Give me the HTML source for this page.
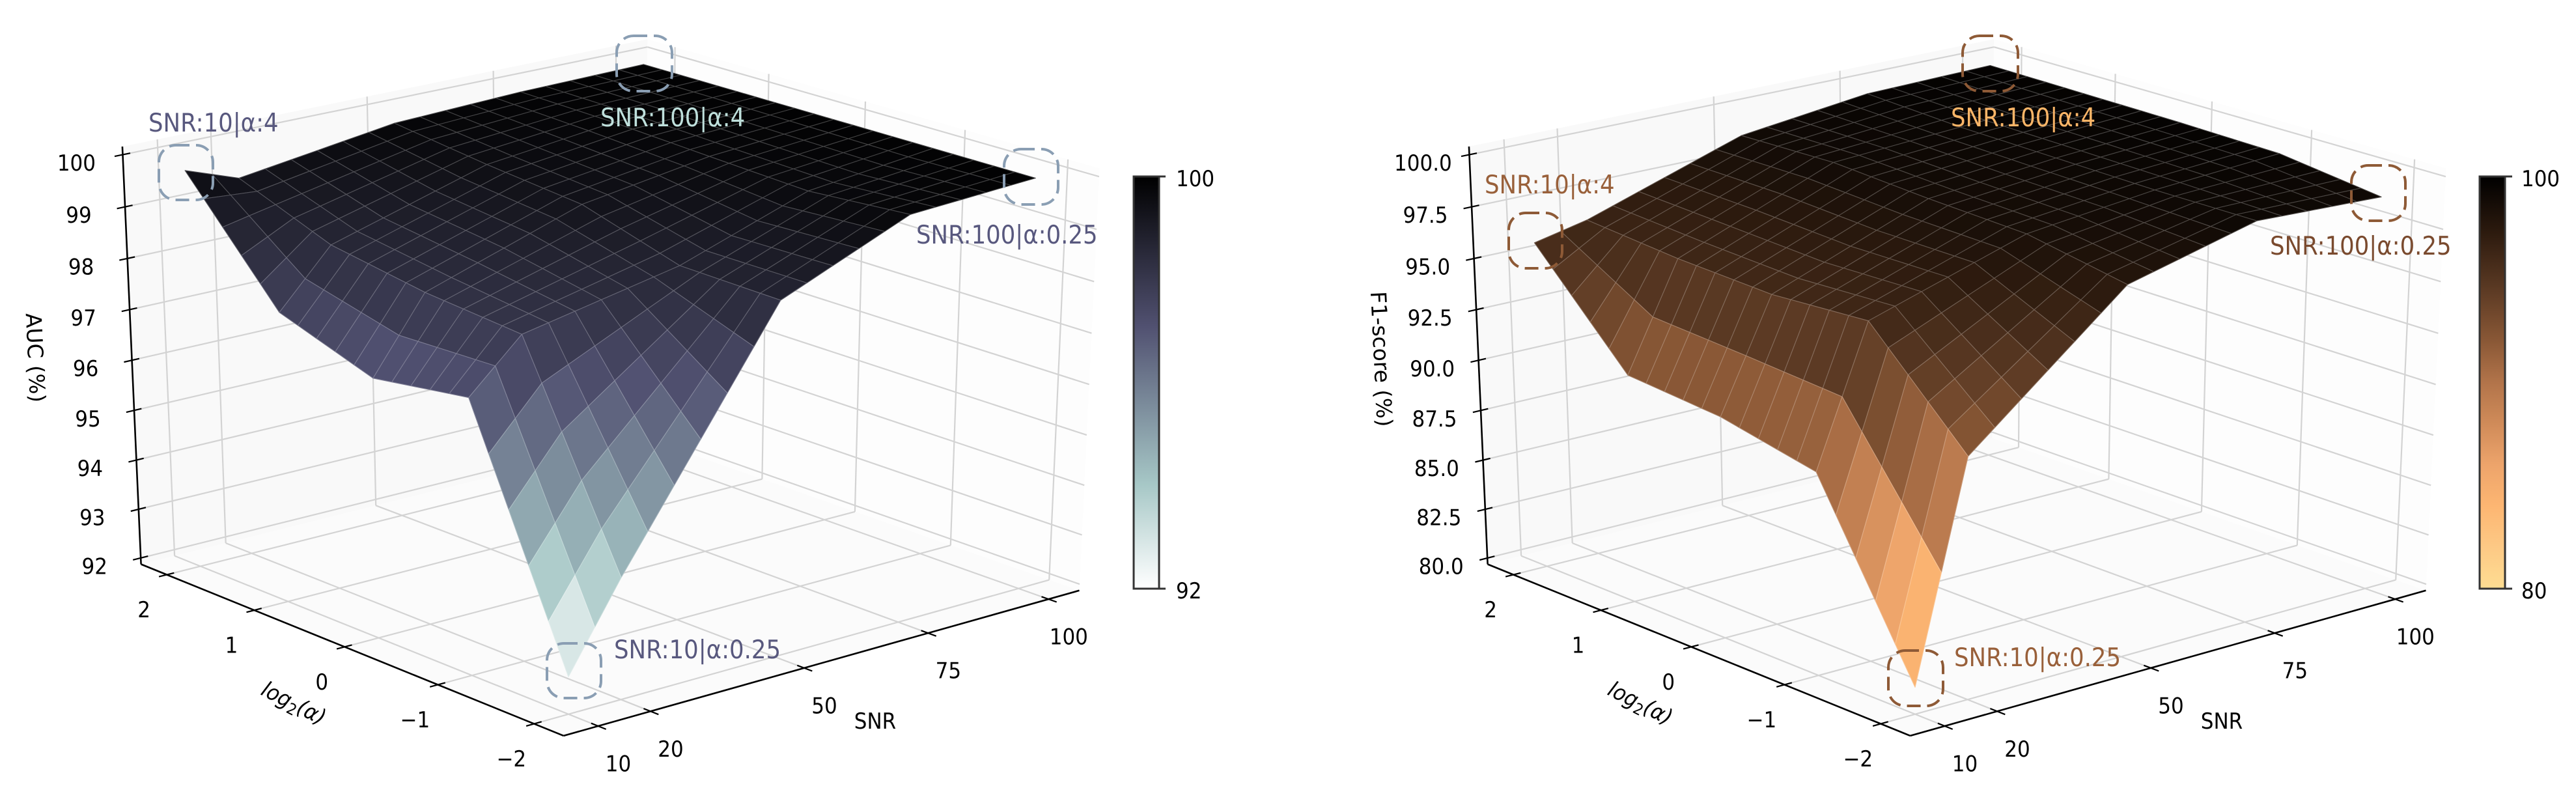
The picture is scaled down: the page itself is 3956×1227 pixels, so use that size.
<!DOCTYPE html>
<html lang="en">
<head>
<meta charset="utf-8">
<title>AUC and F1-score surfaces</title>
<style>
html,body{margin:0;padding:0;background:#fff;}
svg{display:block;}
text{font-family:"DejaVu Sans","Liberation Sans",sans-serif;}
.tick-label{font-size:31px;fill:#000;text-anchor:middle;}
.axis-title{font-size:31px;fill:#000;text-anchor:middle;}
.axis-title-rot{font-size:33px;fill:#000;text-anchor:middle;}
.note{font-size:35.5px;}
.ring{fill:none;stroke-width:4;stroke-dasharray:21 10;}
</style>
</head>
<body>
<svg id="figure" xmlns="http://www.w3.org/2000/svg" width="3956" height="1227" viewBox="0 0 3956 1227">
  <defs>
    <linearGradient id="boneGrad" x1="0" y1="0" x2="0" y2="1">
      <stop offset="0" stop-color="#000000"/>
      <stop offset="0.365" stop-color="#515171" stop-opacity="1"/>
      <stop offset="0.746" stop-color="#a6c7c6"/>
      <stop offset="1" stop-color="#ffffff"/>
    </linearGradient>
    <linearGradient id="copperGrad" x1="0" y1="0" x2="0" y2="1">
      <stop offset="0" stop-color="#000000"/>
      <stop offset="0.135" stop-color="#2c1a0e"/>
      <stop offset="0.27" stop-color="#5a3923"/>
      <stop offset="0.4" stop-color="#8a5836"/>
      <stop offset="0.5" stop-color="#b2744a"/>
      <stop offset="0.6" stop-color="#d08b59"/>
      <stop offset="0.7" stop-color="#eda46b"/>
      <stop offset="0.8" stop-color="#fdb672"/>
      <stop offset="0.9" stop-color="#fdc985"/>
      <stop offset="1" stop-color="#fedd92"/>
    </linearGradient>
  </defs>

  <g id="panel-auc"></g>
  <g id="panel-f1"></g>

  <g>
    <text class="axis-title-rot" transform="translate(43,550) rotate(87.2)">AUC (%)</text>
    <text class="axis-title" transform="translate(1344,1119) scale(1,1.1)">SNR</text>
    <text class="axis-title" transform="translate(446,1090) rotate(27) scale(1,1.08)" font-style="italic">log<tspan dy="6" font-size="22" font-style="normal">2</tspan><tspan dy="-6">(α)</tspan></text>
  </g>
  <g>
    <text class="axis-title-rot" transform="translate(2110,552) rotate(87.2)">F1-score (%)</text>
    <text class="axis-title" transform="translate(3412,1119) scale(1,1.1)">SNR</text>
    <text class="axis-title" transform="translate(2514,1090) rotate(27) scale(1,1.08)" font-style="italic">log<tspan dy="6" font-size="22" font-style="normal">2</tspan><tspan dy="-6">(α)</tspan></text>
  </g>

  <g>
    <rect x="1741" y="271" width="39" height="633" fill="url(#boneGrad)" stroke="#333" stroke-width="3"/>
    <line x1="1780" y1="271" x2="1790" y2="271" stroke="#333" stroke-width="3"/>
    <line x1="1780" y1="904" x2="1790" y2="904" stroke="#333" stroke-width="3"/>
    <text transform="translate(1806,286) scale(1,1.1)" font-size="31">100</text>
    <text transform="translate(1806,919) scale(1,1.1)" font-size="31">92</text>
  </g>
  <g>
    <rect x="3808" y="271" width="39" height="633" fill="url(#copperGrad)" stroke="#333" stroke-width="3"/>
    <line x1="3847" y1="271" x2="3858" y2="271" stroke="#333" stroke-width="3"/>
    <line x1="3847" y1="904" x2="3858" y2="904" stroke="#333" stroke-width="3"/>
    <text transform="translate(3872,286) scale(1,1.1)" font-size="31">100</text>
    <text transform="translate(3872,919) scale(1,1.1)" font-size="31">80</text>
  </g>

  <g>
    <rect class="ring" x="244" y="223" width="83" height="84" rx="26" stroke="#8a9eb3"/>
    <rect class="ring" x="947" y="55" width="85" height="85" rx="26" stroke="#8a9eb3"/>
    <rect class="ring" x="1542" y="229" width="83" height="85" rx="26" stroke="#8a9eb3"/>
    <rect class="ring" x="840" y="988" width="83" height="84" rx="26" stroke="#8a9eb3"/>
    <text class="note" transform="translate(228,202) scale(1,1.1)" fill="#58587e">SNR:10|α:4</text>
    <text class="note" transform="translate(922,194) scale(1,1.1)" fill="#bfe0dc">SNR:100|α:4</text>
    <text class="note" transform="translate(1407,374) scale(1,1.1)" fill="#58587e">SNR:100|α:0.25</text>
    <text class="note" transform="translate(943,1011) scale(1,1.1)" fill="#58587e">SNR:10|α:0.25</text>
  </g>
  <g>
    <rect class="ring" x="2317" y="327" width="82" height="85" rx="26" stroke="#8e5a36"/>
    <rect class="ring" x="3014" y="55" width="85" height="85" rx="26" stroke="#8e5a36"/>
    <rect class="ring" x="3611" y="254" width="83" height="85" rx="26" stroke="#8e5a36"/>
    <rect class="ring" x="2900" y="999" width="84" height="85" rx="26" stroke="#8e5a36"/>
    <text class="note" transform="translate(2280,297) scale(1,1.1)" fill="#99603a">SNR:10|α:4</text>
    <text class="note" transform="translate(2996,194) scale(1,1.1)" fill="#fdb668">SNR:100|α:4</text>
    <text class="note" transform="translate(3486,391) scale(1,1.1)" fill="#7a4a2e">SNR:100|α:0.25</text>
    <text class="note" transform="translate(3001,1023) scale(1,1.1)" fill="#99603a">SNR:10|α:0.25</text>
  </g>
</svg>

<script>
/* ---- chart data ---- */
const snrTicks = [10, 20, 50, 75, 100];
const alphaTicks = [-2, -1, 0, 1, 2];
const aucTicks = [92, 93, 94, 95, 96, 97, 98, 99, 100];
const f1Ticks = [80, 82.5, 85, 87.5, 90, 92.5, 95, 97.5, 100];

/* values at each SNR tick, one array per log2(alpha) level */
const aucAlphaM2 = [92.6, 94.25, 98.76, 99.8, 99.94];
const aucAlphaM1 = [97.25, 98.2, 98.8, 99.66, 99.94];
const aucAlpha0 = [96.97, 98.37, 99.37, 99.75, 99.94];
const aucAlpha1 = [97.6, 98.67, 99.56, 99.85, 99.94];
const aucAlpha2 = [99.73, 99.37, 99.8, 99.9, 99.94];

const f1AlphaM2 = [81.0, 91.4, 97.63, 99.2, 98.96];
const f1AlphaM1 = [89.6, 96.13, 98.5, 99.2, 99.6];
const f1Alpha0 = [90.57, 95.83, 98.7, 99.3, 99.7];
const f1Alpha1 = [90.96, 96.02, 99.0, 99.4, 99.75];
const f1Alpha2 = [95.85, 96.4, 98.9, 99.66, 99.8];

const boneStops = [[0, 255, 255, 255], [0.254, 166, 199, 198], [0.635, 81, 81, 113], [1, 0, 0, 0]];
const copperStops = [[0, 254, 221, 146], [0.1, 253, 201, 133], [0.2, 253, 182, 114], [0.3, 237, 164, 107], [0.4, 208, 139, 89], [0.5, 178, 116, 74], [0.6, 138, 88, 54], [0.73, 90, 57, 35], [0.865, 44, 26, 14], [1, 0, 0, 0]];

/* ---- axis geometry ---- */
const SVGNS = 'http://www.w3.org/2000/svg';
const snrLim = [3.5, 106.5];
const alphaLim = [-2.3, 2.3];
const meshSnrStep = 5;
const meshAlphaStep = 0.2;
/* calibration: unit-cube corner -> pixel on the left panel (w=0 floor, w=1 the 100% level) */
const cornerMap = [
  [0, 0, 0, 865, 1130], [1, 0, 0, 1658, 906], [0, 1, 0, 217, 867], [1, 1, 0, 991, 673],
  [0, 1, 1, 188.6, 237], [1, 1, 1, 994, 72], [1, 0, 1, 1688, 272]
];

function solveProjection() {
  const rows = [];
  const rhs = [];
  cornerMap.forEach(function (c) {
    const X = c[0], Y = c[1], Z = c[2], x = c[3] / 1000, y = c[4] / 1000;
    rows.push([X, Y, Z, 1, 0, 0, 0, 0, -x * X, -x * Y, -x * Z]);
    rhs.push(x);
    rows.push([0, 0, 0, 0, X, Y, Z, 1, -y * X, -y * Y, -y * Z]);
    rhs.push(y);
  });
  const n = 11;
  const A = [];
  for (let i = 0; i < n; i++) {
    A.push(new Array(n + 1).fill(0));
    for (let j = 0; j < n; j++) {
      for (let k = 0; k < rows.length; k++) A[i][j] += rows[k][i] * rows[k][j];
    }
    for (let k = 0; k < rows.length; k++) A[i][n] += rows[k][i] * rhs[k];
  }
  for (let i = 0; i < n; i++) {
    let piv = i;
    for (let r = i + 1; r < n; r++) if (Math.abs(A[r][i]) > Math.abs(A[piv][i])) piv = r;
    const t = A[i]; A[i] = A[piv]; A[piv] = t;
    for (let r = 0; r < n; r++) {
      if (r === i) continue;
      const f = A[r][i] / A[i][i];
      for (let c = i; c <= n; c++) A[r][c] -= f * A[i][c];
    }
  }
  return A.map(function (row, i) { return row[n] / row[i]; });
}
const P = solveProjection();

function projectUnit(u, v, w) {
  const d = P[8] * u + P[9] * v + P[10] * w + 1;
  return [
    1000 * (P[0] * u + P[1] * v + P[2] * w + P[3]) / d,
    1000 * (P[4] * u + P[5] * v + P[6] * w + P[7]) / d
  ];
}

function lerpColor(stops, t) {
  const x = Math.max(0, Math.min(1, t));
  for (let i = 1; i < stops.length; i++) {
    if (x <= stops[i][0]) {
      const a = stops[i - 1], b = stops[i];
      const f = (x - a[0]) / (b[0] - a[0]);
      return [a[1] + f * (b[1] - a[1]), a[2] + f * (b[2] - a[2]), a[3] + f * (b[3] - a[3])];
    }
  }
  const last = stops[stops.length - 1];
  return [last[1], last[2], last[3]];
}

function rgb(c) {
  return 'rgb(' + Math.round(c[0]) + ',' + Math.round(c[1]) + ',' + Math.round(c[2]) + ')';
}

function el(parent, tag) {
  const node = document.createElementNS(SVGNS, tag);
  parent.appendChild(node);
  return node;
}

function pts(list) {
  return list.map(function (p) { return p[0].toFixed(1) + ',' + p[1].toFixed(1); }).join(' ');
}

function segment(parent, a, b, color, width) {
  const line = el(parent, 'line');
  line.setAttribute('x1', a[0].toFixed(1));
  line.setAttribute('y1', a[1].toFixed(1));
  line.setAttribute('x2', b[0].toFixed(1));
  line.setAttribute('y2', b[1].toFixed(1));
  line.setAttribute('stroke', color);
  line.setAttribute('stroke-width', width);
  return line;
}

function fmt(v, digits) {
  return v.toFixed(digits).replace('-', '\u2212');
}

function buildPanel(cfg) {
  const root = document.getElementById(cfg.id);
  const sx = function (s) { return (s - snrLim[0]) / (snrLim[1] - snrLim[0]); };
  const ax = function (a) { return (a - alphaLim[0]) / (alphaLim[1] - alphaLim[0]); };
  const zx = function (z) { return (z - cfg.zFloor) / (cfg.zRef - cfg.zFloor); };
  const pt = function (s, a, z) {
    const p = projectUnit(sx(s), ax(a), zx(z));
    return [p[0] + cfg.dx, p[1]];
  };
  const S0 = snrLim[0], S1 = snrLim[1], A0 = alphaLim[0], A1 = alphaLim[1], Z0 = cfg.zFloor, Z1 = cfg.zTop;

  /* panes */
  const paneLeft = el(root, 'polygon');
  
  
  paneLeft.setAttribute('points', pts([pt(S0, A1, Z0), pt(S1, A1, Z0), pt(S1, A1, Z1), pt(S0, A1, Z1)]));
  paneLeft.setAttribute('fill', '#f9f9f9');
  const paneRight = el(root, 'polygon');
  
  
  paneRight.setAttribute('points', pts([pt(S1, A1, Z0), pt(S1, A0, Z0), pt(S1, A0, Z1), pt(S1, A1, Z1)]));
  paneRight.setAttribute('fill', '#fdfdfd');
  const paneFloor = el(root, 'polygon');
  
  
  paneFloor.setAttribute('points', pts([pt(S0, A0, Z0), pt(S1, A0, Z0), pt(S1, A1, Z0), pt(S0, A1, Z0)]));
  paneFloor.setAttribute('fill', '#fbfbfb');

  /* grid */
  const gridGroup = el(root, 'g');
  
  
  const gridColor = '#d3d3d3';
  const gridWidth = 2.2;
  snrTicks.forEach(function (s) {
    const g1 = segment(gridGroup, pt(s, A0, Z0), pt(s, A1, Z0), gridColor, gridWidth);
    
    
    const g2 = segment(gridGroup, pt(s, A1, Z0), pt(s, A1, Z1), gridColor, gridWidth);
    
    
  });
  alphaTicks.forEach(function (a) {
    const g1 = segment(gridGroup, pt(S0, a, Z0), pt(S1, a, Z0), gridColor, gridWidth);
    
    
    const g2 = segment(gridGroup, pt(S1, a, Z0), pt(S1, a, Z1), gridColor, gridWidth);
    
    
  });
  cfg.zTicks.forEach(function (z) {
    const g1 = segment(gridGroup, pt(S0, A1, z), pt(S1, A1, z), gridColor, gridWidth);
    
    
    const g2 = segment(gridGroup, pt(S1, A1, z), pt(S1, A0, z), gridColor, gridWidth);
    
    
  });

  /* axis lines, ticks and labels */
  const axisGroup = el(root, 'g');
  
  
  const zAxis = segment(axisGroup, pt(S0, A1, Z0), pt(S0, A1, Z1), '#000', 2.6);
  
  
  const alphaAxis = segment(axisGroup, pt(S0, A0, Z0), pt(S0, A1, Z0), '#000', 2.6);
  
  
  const snrAxis = segment(axisGroup, pt(S0, A0, Z0), pt(S1, A0, Z0), '#000', 2.6);
  
  

  const label = function (anchor, dx, dy, str, name) {
    const t = el(axisGroup, 'text');
    t.setAttribute('class', 'tick-label');
    t.setAttribute('transform', 'translate(' + (anchor[0] + dx).toFixed(1) + ',' + (anchor[1] + dy + 12.5).toFixed(1) + ') scale(1,1.1)');
    t.textContent = str;
    
    
  };

  cfg.zTicks.forEach(function (z) {
    const tk = segment(axisGroup, pt(S0 - 1.5, A1, z), pt(S0 + 1.4, A1, z), '#000', 2.2);
    
    
    label(pt(S0, A1, z), -71, 12, fmt(z, cfg.zDigits), 'z-tick-label');
  });
  alphaTicks.forEach(function (a) {
    const tk = segment(axisGroup, pt(S0 - 1.5, a, Z0), pt(S0 + 1.4, a, Z0), '#000', 2.2);
    
    
    label(pt(S0, a, Z0), -35, 53, fmt(a, 0), 'alpha-tick-label');
  });
  snrTicks.forEach(function (s) {
    const tk = segment(axisGroup, pt(s, A0 - 0.08, Z0), pt(s, A0 + 0.07, Z0), '#000', 2.2);
    
    
    label(pt(s, A0, Z0), 31, 57, fmt(s, 0), 'snr-tick-label');
  });

  /* surface: knots resampled onto the plotting mesh */
  const surfaceValue = function (s, a) {
    let i = 0;
    while (i < snrTicks.length - 2 && s > snrTicks[i + 1]) i++;
    let j = 0;
    while (j < alphaTicks.length - 2 && a > alphaTicks[j + 1]) j++;
    const fs = (s - snrTicks[i]) / (snrTicks[i + 1] - snrTicks[i]);
    const fa = (a - alphaTicks[j]) / (alphaTicks[j + 1] - alphaTicks[j]);
    const r0 = cfg.rows[j], r1 = cfg.rows[j + 1];
    return (1 - fa) * ((1 - fs) * r0[i] + fs * r0[i + 1]) + fa * ((1 - fs) * r1[i] + fs * r1[i + 1]);
  };
  const surfaceGroup = el(root, 'g');
  
  
  const snrN = Math.round((snrTicks[snrTicks.length - 1] - snrTicks[0]) / meshSnrStep);
  const alphaN = Math.round((alphaTicks[alphaTicks.length - 1] - alphaTicks[0]) / meshAlphaStep);
  for (let i = snrN - 1; i >= 0; i--) {
    for (let j = alphaN - 1; j >= 0; j--) {
      const s0 = snrTicks[0] + i * meshSnrStep, s1 = s0 + meshSnrStep;
      const a0 = alphaTicks[0] + j * meshAlphaStep, a1 = a0 + meshAlphaStep;
      const z00 = surfaceValue(s0, a0), z10 = surfaceValue(s1, a0), z11 = surfaceValue(s1, a1), z01 = surfaceValue(s0, a1);
      const avg = (z00 + z10 + z11 + z01) / 4;
      const c = lerpColor(cfg.stops, (avg - cfg.vmin) / (cfg.vmax - cfg.vmin));
      const edge = [c[0] + (255 - c[0]) * 0.25, c[1] + (255 - c[1]) * 0.25, c[2] + (255 - c[2]) * 0.25];
      const cell = el(surfaceGroup, 'polygon');
      cell.setAttribute('points', pts([pt(s0, a0, z00), pt(s1, a0, z10), pt(s1, a1, z11), pt(s0, a1, z01)]));
      cell.setAttribute('fill', rgb(c));
      cell.setAttribute('stroke', rgb(edge));
      cell.setAttribute('stroke-width', '1.1');
      cell.setAttribute('stroke-linejoin', 'round');
      
      
    }
  }
}

buildPanel({
  id: 'panel-auc', dx: 0, zFloor: 91.87, zRef: 100, zTop: 100.155, zTicks: aucTicks, zDigits: 0,
  rows: [aucAlphaM2, aucAlphaM1, aucAlpha0, aucAlpha1, aucAlpha2],
  stops: boneStops, vmin: 92.65, vmax: 100
});
buildPanel({
  id: 'panel-f1', dx: 2068, zFloor: 79.68, zRef: 100, zTop: 100.39, zTicks: f1Ticks, zDigits: 1,
  rows: [f1AlphaM2, f1AlphaM1, f1Alpha0, f1Alpha1, f1Alpha2],
  stops: copperStops, vmin: 80, vmax: 100
});
</script>
</body>
</html>
